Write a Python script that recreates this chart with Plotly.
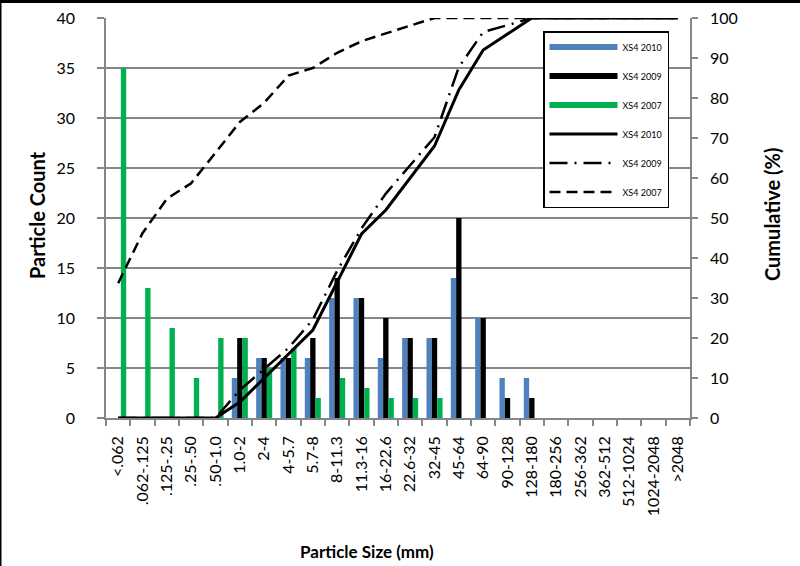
import plotly.graph_objects as go

categories = ["<.062", ".062-.125", ".125-.25", ".25-.50", ".50-1.0", "1.0-2", "2-4",
              "4-5.7", "5.7-8", "8-11.3", "11.3-16", "16-22.6", "22.6-32", "32-45",
              "45-64", "64-90", "90-128", "128-180", "180-256", "256-362", "362-512",
              "512-1024", "1024-2048", ">2048"]

count_2010 = [0, 0, 0, 0, 0, 4, 6, 6, 6, 12, 12, 6, 8, 8, 14, 10, 4, 4, 0, 0, 0, 0, 0, 0]
count_2009 = [0, 0, 0, 0, 0, 8, 6, 6, 8, 14, 12, 10, 8, 8, 20, 10, 2, 2, 0, 0, 0, 0, 0, 0]
count_2007 = [35, 13, 9, 4, 8, 8, 5, 7, 2, 4, 3, 2, 2, 2, 0, 0, 0, 0, 0, 0, 0, 0, 0, 0]

cum_2010 = [0, 0, 0, 0, 0, 4, 10, 16, 22, 34, 46, 52, 60, 68, 82, 92, 96, 100,
            100, 100, 100, 100, 100, 100]
cum_2009 = [0, 0, 0, 0, 0, 7.0, 12.3, 17.5, 24.6, 36.8, 47.4, 56.1, 63.2, 70.2, 87.7,
            96.5, 98.2, 100, 100, 100, 100, 100, 100, 100]
cum_2007 = [33.7, 46.2, 54.8, 58.7, 66.3, 74.0, 78.8, 85.6, 87.5, 91.3, 94.2, 96.2,
            98.1, 100, 100, 100, 100, 100, 100, 100, 100, 100, 100, 100]

series_names = ["XS4 2010", "XS4 2009", "XS4 2007"]
BLUE = "#4F81BD"
BLACK = "#000000"
GREEN = "#00B050"
GRAY = "#868686"
FONT = "Lato"

fig = go.Figure()

# bars (legend handled by line-style proxies to mimic the Excel legend)
for vals, col, name in [(count_2010, BLUE, series_names[0]),
                        (count_2009, BLACK, series_names[1]),
                        (count_2007, GREEN, series_names[2])]:
    fig.add_trace(go.Bar(x=categories, y=vals, name=name, marker_color=col,
                         marker_line_width=0, showlegend=False, yaxis="y"))

# legend proxies for bar series
for col, name in [(BLUE, series_names[0]), (BLACK, series_names[1]), (GREEN, series_names[2])]:
    fig.add_trace(go.Scatter(x=[None], y=[None], mode="lines", name=name,
                             line=dict(color=col, width=6), legendgroup=name + "b"))

# cumulative lines
for vals, dash, w, name in [(cum_2010, "solid", 3, series_names[0]),
                            (cum_2009, "18px,7px,2px,7px", 2.5, series_names[1]),
                            (cum_2007, "11px,6px", 2.5, series_names[2])]:
    fig.add_trace(go.Scatter(x=categories, y=vals, mode="lines", name=name, yaxis="y2",
                             line=dict(color=BLACK, width=w, dash=dash),
                             cliponaxis=False, legendgroup=name + "l"))

W, H = 800, 566
ML, MR, MT, MB = 106, 110, 18, 148
PW = W - ML - MR
PH = H - MT - MB

def px_x(x):
    return (x - ML) / PW

def px_y(y):
    return (H - MB - y) / PH

fig.update_layout(
    width=W, height=H,
    margin=dict(l=ML, r=MR, t=MT, b=MB, pad=0, autoexpand=False),
    paper_bgcolor="white", plot_bgcolor="white",
    barmode="group", bargap=0.34, bargroupgap=0,
    font=dict(family=FONT, color="black"),
    xaxis=dict(type="category", tickson="boundaries", ticks="outside", ticklen=6,
               tickcolor=GRAY, tickwidth=1.5, showline=True, linecolor=GRAY, linewidth=1.5,
               tickangle=-90, tickfont=dict(family=FONT, size=16, color="black"),
               ticklabelstandoff=10,
               showgrid=False, range=[-0.5, 23.5], automargin=False),
    yaxis=dict(range=[0, 40], dtick=5, showgrid=True, gridcolor=GRAY, gridwidth=1.5,
               showline=True, linecolor=GRAY, linewidth=1.5, ticks="outside", ticklen=7,
               tickcolor=GRAY, tickwidth=1.5, zeroline=False, automargin=False,
               tickfont=dict(family=FONT, size=16, color="black"), ticklabelstandoff=19),
    yaxis2=dict(range=[0, 100], dtick=10, overlaying="y", side="right", showgrid=False,
                showline=True, linecolor=GRAY, linewidth=1.5, ticks="outside", ticklen=6,
                tickcolor=GRAY, tickwidth=1.5, zeroline=False, automargin=False,
                tickfont=dict(family=FONT, size=16, color="black"), ticklabelstandoff=9),
    legend=dict(x=px_x(543), y=px_y(31), xanchor="left", yanchor="top",
                bordercolor="black", borderwidth=1.5, bgcolor="white",
                font=dict(family=FONT, size=9, color="black"),
                itemwidth=68, tracegroupgap=10),
    showlegend=True,
)

fig.add_annotation(text="<b>Particle Count</b>", x=px_x(37), y=px_y(215), xref="paper",
                   yref="paper", textangle=-90, showarrow=False,
                   xanchor="center", yanchor="middle",
                   font=dict(family=FONT, size=20, color="black"))
fig.add_annotation(text="<b>Cumulative (%)</b>", x=px_x(772), y=px_y(215), xref="paper",
                   yref="paper", textangle=-90, showarrow=False,
                   xanchor="center", yanchor="middle",
                   font=dict(family=FONT, size=20, color="black"))
fig.add_annotation(text="<b>Particle Size (mm)</b>", x=px_x(367), y=px_y(551), xref="paper",
                   yref="paper", showarrow=False, xanchor="center", yanchor="middle",
                   font=dict(family=FONT, size=17, color="black"))

# outer chart border (top and left edges visible in the reference crop)
fig.add_shape(type="rect", xref="paper", yref="paper", x0=px_x(0), x1=px_x(W),
              y0=px_y(3), y1=px_y(0), fillcolor="black", line=dict(width=0), layer="above")
fig.add_shape(type="rect", xref="paper", yref="paper", x0=px_x(0), x1=px_x(1.5),
              y0=px_y(H), y1=px_y(0), fillcolor="black", line=dict(width=0), layer="above")

fig.write_html("out.html", config={"displayModeBar": False},
               post_script="document.body.style.margin='0px';document.body.style.padding='0px';")
